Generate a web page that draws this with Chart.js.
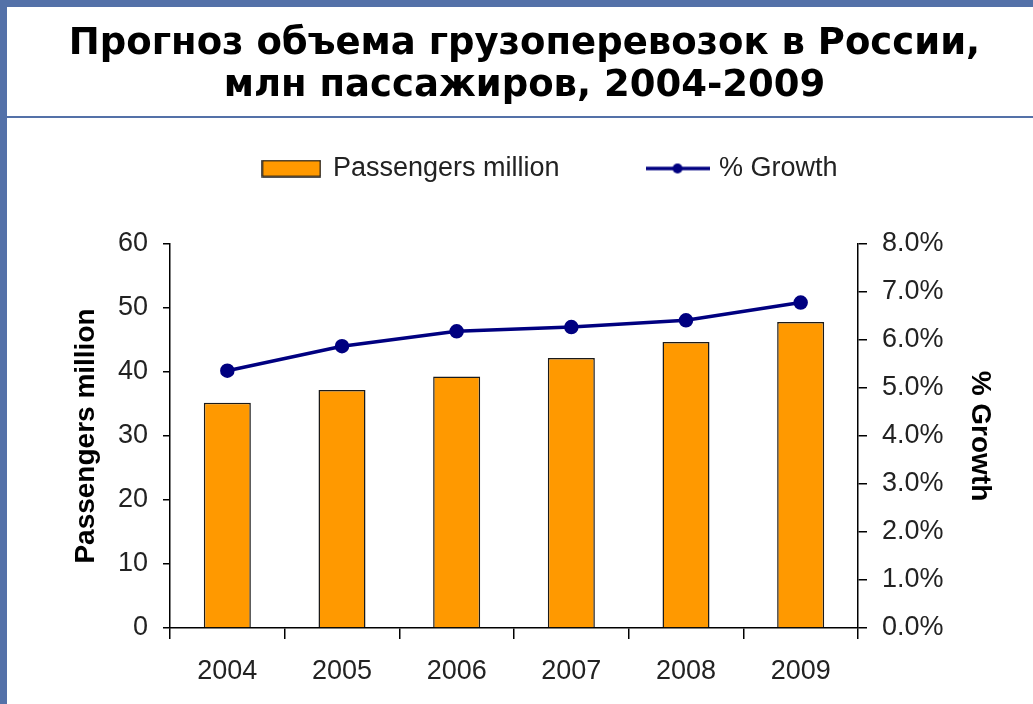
<!DOCTYPE html>
<html>
<head>
    <meta charset="utf-8" />
    <title>Прогноз объема грузоперевозок в России</title>
    <script src="https://cdn.jsdelivr.net/npm/chart.js@4"></script>
    <style>
        html, body {
            margin: 0;
            padding: 0;
            background: #fff;
            width: 1033px;
            height: 704px;
            overflow: hidden;
            position: relative;
        }
        .topBand {
            position: absolute; left: 0; top: 0; width: 1033px; height: 7px;
            background: #5471a8;
        }
        .leftBand {
            position: absolute; left: 0; top: 0; width: 7px; height: 704px;
            background: #5471a8;
        }
        .rule {
            position: absolute; left: 0; top: 116px; width: 1033px; height: 2px;
            background: #5471a8;
        }
        h1 {
            position: absolute; left: 16px; right: 0; top: 21px; margin: 0;
            font: bold 37px/42px "DejaVu Sans", sans-serif;
            text-align: center; color: #000;
            z-index: 2;
        }
        #cnvChart {
            position: absolute; left: 68px; top: 65px;
        }
    </style>
</head>
<body>
    <div class="topBand"></div>
    <div class="leftBand"></div>
    <div class="rule"></div>
    <h1>Прогноз объема грузоперевозок в России,<br>млн пассажиров, 2004-2009</h1>
    <canvas id="cnvChart" width="965" height="639"></canvas>

    <script>
        // dados
        const anos = ['2004', '2005', '2006', '2007', '2008', '2009'];
        const passageiros = [35.2, 37.2, 39.3, 42.2, 44.7, 47.8];
        const crescimento = [0.0536, 0.0587, 0.0618, 0.0627, 0.0641, 0.0678];

        const corBarra = '#ff9900';
        const corLinha = '#000080';
        const fonteEixo = { family: '"Liberation Sans", Arial, sans-serif', size: 27 };
        const fonteTitulo = { family: '"Liberation Sans", Arial, sans-serif', size: 28, weight: 'bold' };

        // icones da legenda
        function iconeBarra() {
            const c = document.createElement('canvas');
            c.width = 60; c.height = 18;
            const g = c.getContext('2d');
            g.fillStyle = corBarra;
            g.fillRect(1, 1, 58, 16);
            g.strokeStyle = '#1a1a1a';
            g.lineWidth = 1.5;
            g.strokeRect(1, 1, 58, 16);
            return c;
        }
        function iconeLinha() {
            const c = document.createElement('canvas');
            c.width = 64; c.height = 14;
            const g = c.getContext('2d');
            g.strokeStyle = corLinha;
            g.lineWidth = 3.5;
            g.beginPath(); g.moveTo(0, 7); g.lineTo(64, 7); g.stroke();
            g.fillStyle = corLinha;
            g.beginPath(); g.arc(32, 7, 5, 0, Math.PI * 2); g.fill();
            return c;
        }
        const icones = [iconeBarra(), iconeLinha()];

        const ctx = document.getElementById('cnvChart').getContext('2d');
        new Chart(ctx, {
            data: {
                labels: anos,
                datasets: [{
                    type: 'bar',
                    label: 'Passengers million',
                    data: passageiros,
                    yAxisID: 'y',
                    backgroundColor: corBarra,
                    borderColor: '#1a1a1a',
                    borderWidth: 1.5,
                    barPercentage: 0.41,
                    categoryPercentage: 1
                }, {
                    type: 'line',
                    label: '% Growth',
                    data: crescimento,
                    yAxisID: 'y2',
                    borderColor: corLinha,
                    backgroundColor: corLinha,
                    borderWidth: 3.5,
                    pointRadius: 5.5,
                    pointBackgroundColor: corLinha,
                    pointBorderColor: corLinha,
                    tension: 0
                }]
            },
            options: {
                responsive: false,
                animation: false,
                layout: { padding: 0 },
                plugins: {
                    tooltip: { enabled: false },
                    legend: {
                        display: true,
                        position: 'top',
                        labels: {
                            usePointStyle: true,
                            pointStyleWidth: 56,
                            padding: 90,
                            color: '#222',
                            font: fonteEixo,
                            generateLabels: function (chart) {
                                const itens = Chart.defaults.plugins.legend.labels.generateLabels(chart);
                                itens.sort((a, b) => a.datasetIndex - b.datasetIndex);
                                itens.forEach(it => { it.pointStyle = icones[it.datasetIndex]; });
                                return itens;
                            }
                        }
                    }
                },
                scales: {
                    x: {
                        type: 'category',
                        position: 'bottom',
                        grid: { display: true, drawOnChartArea: false, drawTicks: true, tickLength: 11, color: '#000', lineWidth: 1.5 },
                        border: { display: true, color: '#000', width: 1.5 },
                        ticks: { color: '#222', font: fonteEixo, padding: 16, maxRotation: 0 },
                        afterFit: function (s) { s.height = 76; }
                    },
                    espaco: {
                        type: 'category',
                        position: 'top',
                        grid: { display: false },
                        border: { display: false },
                        ticks: { display: false },
                        afterFit: function (s) { s.height = 52; }
                    },
                    y: {
                        type: 'linear',
                        position: 'left',
                        min: 0,
                        max: 60,
                        ticks: { stepSize: 10, color: '#222', font: fonteEixo, padding: 15 },
                        grid: { display: true, drawOnChartArea: false, drawTicks: true, tickLength: 7, color: '#000', lineWidth: 1.5 },
                        border: { display: true, color: '#000', width: 1.5 },
                        title: { display: true, text: 'Passengers million', color: '#000', font: fonteTitulo, padding: { top: 1, bottom: 0 } },
                        afterFit: function (s) { s.width = 102; }
                    },
                    y2: {
                        type: 'linear',
                        position: 'right',
                        min: 0,
                        max: 0.08,
                        ticks: {
                            stepSize: 0.01,
                            color: '#222',
                            font: fonteEixo,
                            padding: 15,
                            callback: function (v) { return (v * 100).toFixed(1) + '%'; }
                        },
                        grid: { display: true, drawOnChartArea: false, drawTicks: true, tickLength: 9, color: '#000', lineWidth: 1.5 },
                        border: { display: true, color: '#000', width: 1.5 },
                        title: { display: true, text: '% Growth', color: '#000', font: fonteTitulo, padding: { top: 36, bottom: 0 } },
                        afterFit: function (s) { s.width = 175; }
                    }
                }
            }
        });
    </script>
</body>
</html>
